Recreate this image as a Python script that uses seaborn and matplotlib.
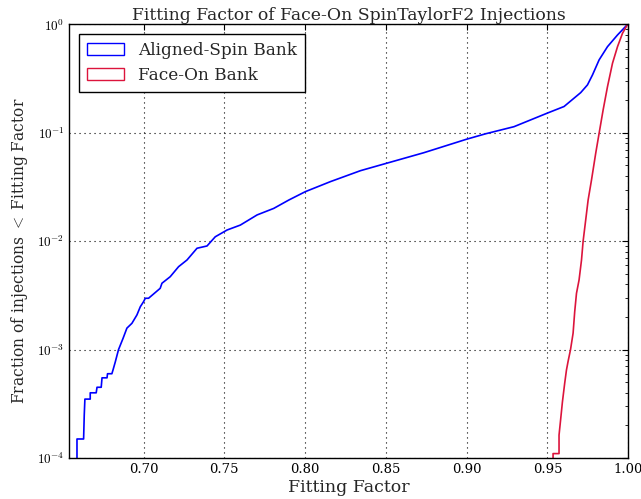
import math
import matplotlib
matplotlib.use('Agg')
import pandas as pd
import matplotlib.pyplot as plt
import matplotlib.ticker as mticker
from matplotlib.patches import Patch
import seaborn as sns

# Cumulative fraction of injections below a given fitting factor
aligned_ff = [0.6588, 0.6588, 0.6629, 0.6633, 0.6637, 0.6670, 0.6670, 0.6707, 0.6712, 0.6738,
              0.6743, 0.6774, 0.6777, 0.6804, 0.6811, 0.6825, 0.6845, 0.6873, 0.6897, 0.6928,
              0.6959, 0.6980, 0.7000, 0.7011, 0.7031, 0.7103, 0.7114, 0.7165, 0.7217, 0.7269,
              0.7331, 0.7393, 0.7444, 0.7517, 0.7599, 0.7703, 0.7806, 0.7899, 0.8002, 0.8157,
              0.8343, 0.8504, 0.8735, 0.8999, 0.9117, 0.9293, 0.9499, 0.9603, 0.9706, 0.9748,
              0.9779, 0.9820, 0.9872, 0.9934, 0.9996]
aligned_frac = [1.0e-4, 1.5e-4, 1.5e-4, 2.5e-4, 3.5e-4, 3.5e-4, 4.0e-4, 4.0e-4, 4.5e-4, 4.5e-4,
                5.5e-4, 5.5e-4, 6.0e-4, 6.0e-4, 6.5e-4, 7.7e-4, 1.0e-3, 1.27e-3, 1.58e-3, 1.75e-3,
                2.09e-3, 2.49e-3, 2.77e-3, 2.98e-3, 2.98e-3, 3.68e-3, 4.1e-3, 4.71e-3, 5.83e-3, 6.72e-3,
                8.62e-3, 9.05e-3, 1.10e-2, 1.27e-2, 1.41e-2, 1.75e-2, 2.01e-2, 2.40e-2, 2.87e-2, 3.55e-2,
                4.48e-2, 5.24e-2, 6.56e-2, 8.73e-2, 0.098, 0.114, 0.152, 0.175, 0.235, 0.277,
                0.342, 0.471, 0.624, 0.80, 1.0]

faceon_ff = [0.9535, 0.9535, 0.9572, 0.9572, 0.9581, 0.9593, 0.9607, 0.9618, 0.9628, 0.9643,
             0.9659, 0.9669, 0.9680, 0.9696, 0.9711, 0.9721, 0.9737, 0.9752, 0.9773, 0.9799,
             0.9820, 0.9845, 0.9872, 0.9903, 0.9934, 0.9965, 0.9996]
faceon_frac = [1.0e-4, 1.1e-4, 1.1e-4, 1.63e-4, 2.2e-4, 3.3e-4, 4.9e-4, 6.5e-4, 7.8e-4, 1.0e-3,
               1.42e-3, 2.24e-3, 3.31e-3, 4.4e-3, 6.7e-3, 1.0e-2, 1.57e-2, 2.40e-2, 3.68e-2, 6.48e-2,
               0.099, 0.163, 0.267, 0.439, 0.624, 0.83, 1.0]

labels = ['Aligned-Spin Bank', 'Face-On Bank']
colors = ['#0000ff', '#dc143c']

sns.set_style('white')
plt.rcParams['font.family'] = ['DejaVu Serif']
plt.rcParams['mathtext.fontset'] = 'cm'

fig = plt.figure(figsize=(6.41, 4.99), dpi=100)
ax = fig.add_axes([0.108, 0.082, 0.872, 0.869])

df_a = pd.DataFrame({'ff': aligned_ff, 'frac': aligned_frac})
df_f = pd.DataFrame({'ff': faceon_ff, 'frac': faceon_frac})
sns.lineplot(data=df_a, x='ff', y='frac', sort=False, estimator=None, color=colors[0], lw=1.2, ax=ax)
sns.lineplot(data=df_f, x='ff', y='frac', sort=False, estimator=None, color=colors[1], lw=1.2, ax=ax)

ax.set_yscale('log')
ax.set_xlim(0.654, 1.0)
ax.set_ylim(1e-4, 1)
ax.set_xticks([0.70, 0.75, 0.80, 0.85, 0.90, 0.95, 1.00])
ax.xaxis.set_major_formatter(mticker.FormatStrFormatter('%.2f'))
ax.yaxis.set_major_formatter(mticker.FuncFormatter(lambda v, p: r'$10^{%d}$' % round(math.log10(v))))
ax.yaxis.set_minor_locator(mticker.LogLocator(base=10, subs=range(2, 10)))
ax.yaxis.set_minor_formatter(mticker.NullFormatter())
ax.tick_params(which='both', direction='in', top=True, right=True, labelsize=9.5, colors='black')
ax.tick_params(which='major', length=4, width=0.8)
ax.tick_params(which='minor', length=2, width=0.6)
ax.grid(True, which='major', color='black', linestyle=(0, (1, 3.5)), linewidth=0.8)
for s in ax.spines.values():
    s.set_color('black')
    s.set_linewidth(1.0)

ax.set_title('Fitting Factor of Face-On SpinTaylorF2 Injections', fontsize=12.4, pad=3)
ax.set_xlabel('Fitting Factor', fontsize=12.5, labelpad=2)
ax.set_ylabel(r'Fraction of injections $<$ Fitting Factor', fontsize=11.2)
ax.yaxis.set_label_coords(-0.071, 0.477)

handles = [Patch(facecolor='none', edgecolor=c, label=l) for c, l in zip(colors, labels)]
leg = ax.legend(handles=handles, loc='upper left', fontsize=12.2, fancybox=False, framealpha=1,
                edgecolor='black', borderaxespad=0.55, handlelength=2.2, handleheight=0.7,
                labelspacing=0.45, borderpad=0.5, handletextpad=0.8)
leg.get_frame().set_linewidth(1.0)

fig.savefig('out.png', dpi=100)
